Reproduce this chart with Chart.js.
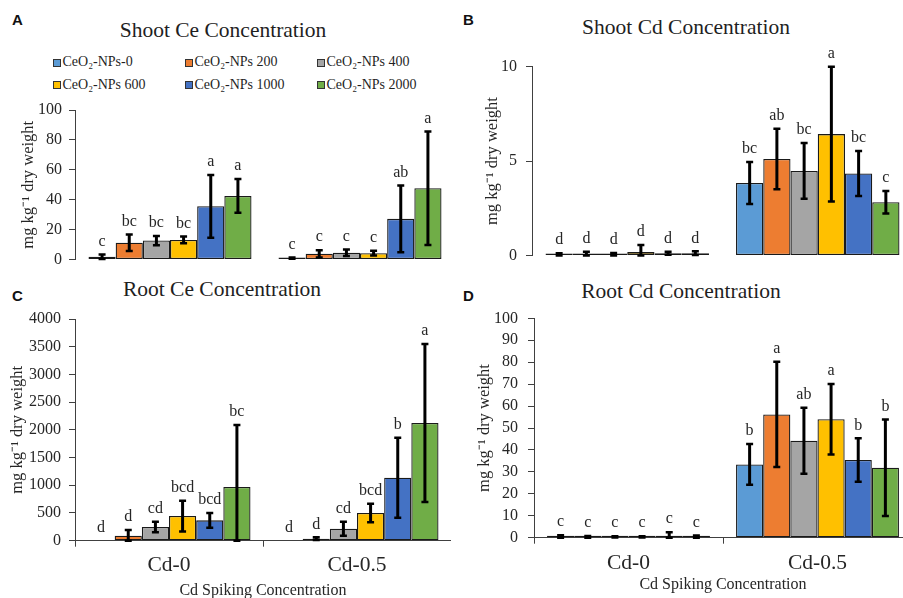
<!DOCTYPE html>
<html>
<head>
<meta charset="utf-8">
<script src="https://cdn.jsdelivr.net/npm/chart.js@4.4.0/dist/chart.umd.min.js"></script>
<style>
  html, body { margin: 0; padding: 0; background: #fff; }
  body { width: 903px; height: 598px; overflow: hidden; position: relative; }
  canvas { position: absolute; }
  .ttl { position: absolute; font: 21.5px "Liberation Serif", "Times New Roman", serif; line-height: 22px; color: #1f1f1f; white-space: nowrap; transform: translateX(-50%); }
  .tag { position: absolute; font: bold 15px "Liberation Sans", Arial, sans-serif; line-height: 15px; color: #111; }
  .lgbox { position: absolute; width: 6px; height: 6px; border: 1px solid #333; }
  .lgtxt { position: absolute; font: 14px "Liberation Serif", "Times New Roman", serif; line-height: 14px; color: #1f1f1f; white-space: nowrap; }
</style>
</head>
<body>
<div class="tag" style="left:12px;top:12px">A</div>
<div class="tag" style="left:463px;top:12px">B</div>
<div class="tag" style="left:12px;top:288px">C</div>
<div class="tag" style="left:463px;top:288px">D</div>
<div class="ttl" style="left:223px;top:19px">Shoot Ce Concentration</div>
<div class="ttl" style="left:686px;top:16px">Shoot Cd Concentration</div>
<div class="ttl" style="left:222px;top:278px">Root Ce Concentration</div>
<div class="ttl" style="left:681px;top:280px">Root Cd Concentration</div>
<div id="legend"></div>
<canvas id="shootCe" width="455" height="195" style="left:0;top:90px"></canvas>
<canvas id="shootCd" width="458" height="236" style="left:455px;top:45px"></canvas>
<canvas id="rootCe" width="451" height="310" style="left:0;top:300px"></canvas>
<canvas id="rootCd" width="457" height="315" style="left:455px;top:295px"></canvas>
<script>
// categories and series
const groups = ["Cd-0", "Cd-0.5"];
const series = ["CeO₂-NPs-0", "CeO₂-NPs 200", "CeO₂-NPs 400", "CeO₂-NPs 600", "CeO₂-NPs 1000", "CeO₂-NPs 2000"];
const colors = ["#5B9BD5", "#ED7D31", "#A5A5A5", "#FFC000", "#4472C4", "#70AD47"];

// A - shoot Ce (mean, sd, letters for Cd-0 and Cd-0.5)
const shootCe0 = [1.8, 11.2, 12.7, 13.1, 35.6, 42.5];
const shootCe0Sd = [1.5, 5.5, 3.1, 2.3, 21, 11.3];
const shootCe05 = [0.9, 3.8, 4.5, 4.2, 27.2, 47.7];
const shootCe05Sd = [0.4, 2.4, 2.2, 1.6, 22.3, 38];
const shootCeLet0 = ["c", "bc", "bc", "bc", "a", "a"];
const shootCeLet05 = ["c", "c", "c", "c", "ab", "a"];
const shootCeTicks = [0, 100, 20];

// B - shoot Cd
const shootCd0 = [0.04, 0.08, 0.05, 0.18, 0.12, 0.12];
const shootCd0Sd = [0.08, 0.12, 0.08, 0.38, 0.08, 0.1];
const shootCd05 = [3.84, 5.11, 4.48, 6.43, 4.34, 2.82];
const shootCd05Sd = [1.11, 1.6, 1.48, 3.57, 1.19, 0.6];
const shootCdLet0 = ["d", "d", "d", "d", "d", "d"];
const shootCdLet05 = ["bc", "ab", "bc", "a", "bc", "c"];
const shootCdTicks = [0, 10, 5];

// C - root Ce
const rootCe0 = [0, 90, 247, 445, 367, 968];
const rootCe0Sd = [0, 102, 93, 277, 132, 1119];
const rootCe05 = [0, 36, 216, 499, 1137, 2123];
const rootCe05Sd = [0, 24, 126, 168, 722, 1424];
const rootCeLet0 = ["d", "d", "cd", "bcd", "bcd", "bc"];
const rootCeLet05 = ["d", "d", "cd", "bcd", "b", "a"];
const rootCeTicks = [0, 4000, 500];

// D - root Cd
const rootCd0 = [0.5, 0.3, 0.4, 0.4, 0.7, 0.5];
const rootCd0Sd = [0.6, 0.5, 0.3, 0.3, 1.8, 0.5];
const rootCd05 = [33.4, 56.2, 44.2, 54.0, 35.4, 31.9];
const rootCd05Sd = [9.3, 24, 15, 16.1, 9.9, 22];
const rootCdLet0 = ["c", "c", "c", "c", "c", "c"];
const rootCdLet05 = ["b", "a", "ab", "a", "b", "b"];
const rootCdTicks = [0, 100, 10];

const serif = '"Liberation Serif", "Times New Roman", serif';
const ink = "#262626";
const axisCol = "#404040";
Chart.defaults.font.family = serif;
Chart.defaults.color = ink;

// legend (panel A only)
const legend = document.getElementById("legend");
series.forEach((name, i) => {
  const col = i % 3, row = Math.floor(i / 3);
  const bx = [53, 185, 317][col];
  const box = document.createElement("div");
  box.className = "lgbox";
  box.style.left = bx + "px";
  box.style.top = (59 + row * 22) + "px";
  box.style.background = colors[i];
  const txt = document.createElement("div");
  txt.className = "lgtxt";
  txt.style.left = (bx + 9.5) + "px";
  txt.style.top = (55 + row * 22.5) + "px";
  txt.textContent = name;
  legend.appendChild(box);
  legend.appendChild(txt);
});

// error bars + significance letters
const errorBars = {
  id: "errorBars",
  afterDatasetsDraw(chart) {
    const { ctx } = chart;
    const y = chart.scales.y;
    ctx.save();
    ctx.font = "16px " + serif;
    ctx.textAlign = "center";
    ctx.textBaseline = "middle";
    chart.data.datasets.forEach((ds, i) => {
      chart.getDatasetMeta(i).data.forEach((bar, j) => {
        const m = ds.data[j], s = ds.sd[j];
        const top = y.getPixelForValue(m + s);
        const bot = y.getPixelForValue(Math.max(m - s, 0));
        if (s > 0) {
          ctx.strokeStyle = "#000";
          ctx.lineWidth = 3;
          ctx.beginPath();
          ctx.moveTo(bar.x, top);
          ctx.lineTo(bar.x, bot);
          ctx.stroke();
          ctx.lineWidth = 2.5;
          ctx.beginPath();
          ctx.moveTo(bar.x - 3.5, top);
          ctx.lineTo(bar.x + 3.5, top);
          ctx.moveTo(bar.x - 3.5, bot);
          ctx.lineTo(bar.x + 3.5, bot);
          ctx.stroke();
        }
        ctx.fillStyle = ink;
        ctx.fillText(ds.letters[j], bar.x, Math.min(top, bar.y) - 13);
      });
    });
    ctx.restore();
  }
};

function makeChart(id, v0, sd0, v05, sd05, let0, let05, ticks, p) {
  const datasets = series.map((name, i) => ({
    label: name,
    data: [v0[i], v05[i]],
    sd: [sd0[i], sd05[i]],
    letters: [let0[i], let05[i]],
    backgroundColor: colors[i],
    borderColor: "#1a1a1a",
    borderWidth: 1.3,
    borderSkipped: false,
    minBarLength: p.minBar,
    categoryPercentage: p.cat,
    barPercentage: 1
  }));
  const x = p.showX ? {
    grid: { drawOnChartArea: false, tickLength: 6, color: axisCol, offset: true },
    border: { display: true, color: axisCol },
    ticks: { font: { family: serif, size: 21.5 }, color: ink, padding: p.xTickPad },
    title: { display: true, text: "Cd Spiking Concentration", font: { family: serif, size: 16 }, color: ink, padding: { top: 0, bottom: p.xTitlePad } },
    afterFit: s => { s.height = p.xH; }
  } : { display: false };
  return new Chart(document.getElementById(id), {
    type: "bar",
    data: { labels: groups, datasets },
    options: {
      responsive: false,
      animation: false,
      layout: { padding: { top: p.top, bottom: p.bottom, left: 0, right: 0 } },
      plugins: { legend: { display: false }, tooltip: { enabled: false } },
      scales: {
        x,
        y: {
          min: ticks[0],
          max: ticks[1],
          ticks: { stepSize: ticks[2], autoSkip: false, font: { family: serif, size: 16 }, color: ink, padding: p.yTickPad, callback: v => String(v) },
          grid: { drawOnChartArea: false, tickLength: 6, color: axisCol },
          border: { display: true, color: axisCol },
          title: { display: true, text: "mg kg⁻¹ dry weight", font: { family: serif, size: 16.5 }, color: ink, padding: { top: p.yTitlePad, bottom: 0 } },
          afterFit: s => { s.width = p.yW; }
        }
      }
    },
    plugins: [errorBars]
  });
}

makeChart("shootCe", shootCe0, shootCe0Sd, shootCe05, shootCe05Sd, shootCeLet0, shootCeLet05, shootCeTicks,
  { top: 20, bottom: 25.5, yW: 75, yTickPad: 7, yTitlePad: 19, cat: 0.858, minBar: 2, showX: false });
makeChart("shootCd", shootCd0, shootCd0Sd, shootCd05, shootCd05Sd, shootCdLet0, shootCdLet05, shootCdTicks,
  { top: 21.7, bottom: 25.5, yW: 77, yTickPad: 9, yTitlePad: 28, cat: 0.858, minBar: 2, showX: false });
makeChart("rootCe", rootCe0, rootCe0Sd, rootCe05, rootCe05Sd, rootCeLet0, rootCeLet05, rootCeTicks,
  { top: 19, bottom: 0, yW: 75, yTickPad: 8, yTitlePad: 8, cat: 0.867, minBar: 0, showX: true, xH: 69.3, xTickPad: 6.2, xTitlePad: 9.4 });
makeChart("rootCd", rootCd0, rootCd0Sd, rootCd05, rootCd05Sd, rootCdLet0, rootCdLet05, rootCdTicks,
  { top: 23.3, bottom: 0, yW: 79, yTickPad: 10, yTitlePad: 20, cat: 0.862, minBar: 2, showX: true, xH: 72.3, xTickPad: 6.4, xTitlePad: 15.7 });
</script>
</body>
</html>
